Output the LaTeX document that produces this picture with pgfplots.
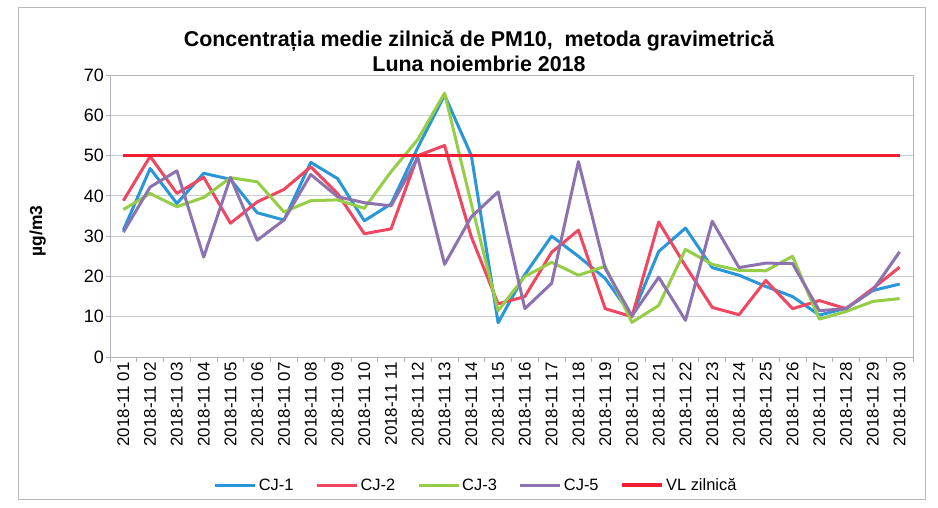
\documentclass[border=0pt]{standalone}
\usepackage{fontspec}
\setmainfont{Liberation Sans}
\usepackage{pgfplots}
\pgfplotsset{compat=1.18}
\usepackage{pgfplotstable}
\definecolor{cjone}{RGB}{40,150,215}
\definecolor{cjtwo}{RGB}{240,70,95}
\definecolor{cjthree}{RGB}{150,205,70}
\definecolor{cjfive}{RGB}{140,115,175}
\definecolor{vlred}{RGB}{240,30,50}
\definecolor{gridc}{RGB}{200,204,216}

\pgfplotstableread{
day cja cjb cjc cjd vl
1  31.5 38.8 36.6 31.0 50
2  46.8 49.8 40.6 42.2 50
3  38.1 40.6 37.3 46.2 50
4  45.6 44.6 39.6 24.8 50
5  44.1 33.2 44.5 44.6 50
6  35.8 38.5 43.5 29.0 50
7  34.0 41.6 36.0 34.0 50
8  48.3 47.2 38.8 45.3 50
9  44.3 40.6 39.0 39.8 50
10 33.8 30.6 36.9 38.3 50
11 38.0 31.8 46.0 37.5 50
12 52.0 50.0 54.0 49.5 50
13 65.0 52.5 65.5 23.0 50
14 50.0 29.8 38.0 34.8 50
15 8.5  13.2 11.5 41.0 50
16 20.5 15.0 20.0 12.0 50
17 30.0 26.0 23.5 18.3 50
18 25.0 31.5 20.3 48.5 50
19 19.5 12.0 22.5 22.0 50
20 10.2 10.0 8.6  10.2 50
21 26.2 33.5 12.8 19.8 50
22 32.0 22.6 26.7 9.1  50
23 22.2 12.3 23.0 33.7 50
24 20.3 10.5 21.5 22.2 50
25 17.5 19.0 21.4 23.3 50
26 15.0 12.0 25.0 23.2 50
27 10.4 14.0 9.4  11.5 50
28 12.1 12.0 11.3 12.0 50
29 16.5 17.0 13.8 16.6 50
30 18.1 22.3 14.5 26.1 50
}\datatable

\begin{document}
\begin{tikzpicture}
\useasboundingbox (0bp,0bp) rectangle (938bp,508bp);
\fill[white] (0bp,0bp) rectangle (938bp,508bp);
\draw[gray!55, line width=1bp] (18bp,8bp) rectangle (925bp,500bp);
\begin{axis}[
  at={(110bp,151bp)}, anchor=south west,
  scale only axis, width=803bp, height=282bp,
  xmin=0.5, xmax=30.5, ymin=0, ymax=70,
  xtick={1,...,30},
  xticklabels={2018-11 01,2018-11 02,2018-11 03,2018-11 04,2018-11 05,2018-11 06,2018-11 07,2018-11 08,2018-11 09,2018-11 10,2018-11 11,2018-11 12,2018-11 13,2018-11 14,2018-11 15,2018-11 16,2018-11 17,2018-11 18,2018-11 19,2018-11 20,2018-11 21,2018-11 22,2018-11 23,2018-11 24,2018-11 25,2018-11 26,2018-11 27,2018-11 28,2018-11 29,2018-11 30},
  minor xtick={0.5,1.5,...,30.5},
  ytick={0,10,...,70},
  tick align=outside, tick pos=left,
  x tick style={draw=none},
  minor x tick style={draw=gray!60, line width=0.8bp},
  y tick style={draw=gray!60, line width=0.8bp},
  major tick length=4bp, minor tick length=5bp,
  ymajorgrids, major grid style={gridc, line width=0.9bp},
  axis line style={gridc!70!gray, line width=0.9bp},
  xticklabel style={rotate=90, anchor=east, font=\fontsize{17}{17}\selectfont, inner sep=1bp},
  yticklabel style={font=\fontsize{18}{18}\selectfont, inner sep=2bp},
  /pgf/number format/assume math mode=true,
  ylabel={\bfseries µg/m3},
  ylabel style={at={(axis description cs:-0.09,0.447)}, anchor=center, font=\fontsize{17.5}{17.5}\selectfont},
  legend columns=5,
  legend style={at={(axis description cs:0.456,-0.454)}, anchor=center, draw=none, fill=none,
    font=\fontsize{16.5}{16.5}\selectfont,
    /tikz/every even column/.append style={column sep=20bp}},
  legend image code/.code={\draw[#1] (0bp,0bp) -- (40bp,0bp);},
  every axis plot/.append style={line join=round, no markers},
]
\addplot[cjone, line width=3bp] table[x=day, y=cja] {\datatable};
\addlegendentry{CJ-1}
\addplot[cjtwo, line width=3bp] table[x=day, y=cjb] {\datatable};
\addlegendentry{CJ-2}
\addplot[cjthree, line width=3bp] table[x=day, y=cjc] {\datatable};
\addlegendentry{CJ-3}
\addplot[cjfive, line width=3bp] table[x=day, y=cjd] {\datatable};
\addlegendentry{CJ-5}
\addplot[vlred, line width=3.5bp] table[x=day, y=vl] {\datatable};
\addlegendentry{VL zilnică}
\end{axis}
\node[font=\bfseries\fontsize{21.5}{25}\selectfont, align=center] at (479bp,457bp)
  {Concentrația medie zilnică de PM10,\ \ metoda gravimetrică\\Luna noiembrie 2018};
\end{tikzpicture}
\end{document}
